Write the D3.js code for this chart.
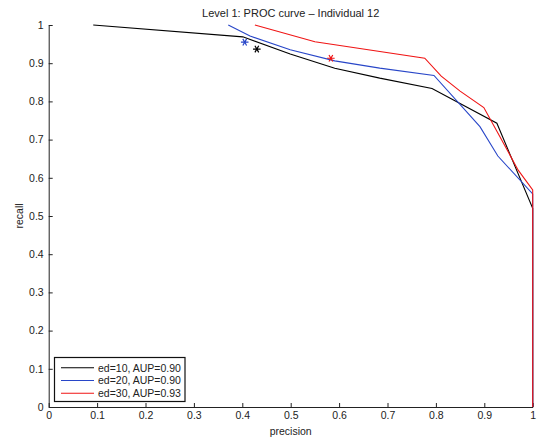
<!DOCTYPE html>
<html>
<head>
<meta charset="utf-8">
<script src="https://cdn.jsdelivr.net/npm/d3@7"></script>
<style>
  html, body { margin: 0; padding: 0; background: #fff; }
  svg { display: block; font-family: "Liberation Sans", Arial, Helvetica, sans-serif; }
</style>
</head>
<body>
<svg id="chart" width="538" height="438"></svg>
<script>
// ---- data ----
const titleText = "Level 1: PROC curve \u2013 Individual 12";
const xLabel = "precision";
const yLabel = "recall";
const tickValues = [0, 0.1, 0.2, 0.3, 0.4, 0.5, 0.6, 0.7, 0.8, 0.9, 1];
const seriesNames = ["ed=10, AUP=0.90", "ed=20, AUP=0.90", "ed=30, AUP=0.93"];
const seriesColors = ["#000000", "#2846c8", "#f01515"];

const ed10Precision = [0.092, 0.401, 0.499, 0.591, 0.684, 0.792, 0.926, 1.0, 1.0];
const ed10Recall    = [1.000, 0.969, 0.924, 0.887, 0.861, 0.834, 0.743, 0.520, 0.0];

const ed20Precision = [0.371, 0.416, 0.499, 0.591, 0.684, 0.796, 0.891, 0.928, 1.0, 1.0];
const ed20Recall    = [1.000, 0.971, 0.935, 0.906, 0.887, 0.868, 0.734, 0.657, 0.558, 0.0];

const ed30Precision = [0.426, 0.550, 0.777, 0.811, 0.850, 0.899, 0.936, 0.970, 1.0, 1.0];
const ed30Recall    = [1.000, 0.956, 0.913, 0.866, 0.827, 0.784, 0.699, 0.620, 0.568, 0.0];

// operating points (asterisks)
const starPrecision = [0.430, 0.405, 0.583];
const starRecall    = [0.937, 0.955, 0.913];

// ---- layout ----
const svg = d3.select("#chart");
const margin = { left: 48.7, right: 5.3, top: 25, bottom: 31 };
const W = 538, H = 438;
const x = d3.scaleLinear().domain([0, 1]).range([margin.left, W - margin.right]);
const y = d3.scaleLinear().domain([0, 1]).range([H - margin.bottom, margin.top]);
const fmt = d3.format("~g");

// axes
const xAxis = d3.axisBottom(x).tickValues(tickValues).tickFormat(fmt).tickSize(-4).tickSizeOuter(0).tickPadding(5);
const yAxis = d3.axisLeft(y).tickValues(tickValues).tickFormat(fmt).tickSize(-4).tickSizeOuter(0).tickPadding(5);

const gx = svg.append("g").attr("transform", `translate(0,${y(0)})`).call(xAxis);
const gy = svg.append("g").attr("transform", `translate(${x(0)},0)`).call(yAxis);
[gx, gy].forEach(g => {
  g.selectAll("text").attr("font-size", 10.5).attr("fill", "#222").attr("font-family", "Liberation Sans, Arial, sans-serif");
  g.selectAll("line").attr("stroke", "#222");
  g.select(".domain").attr("stroke", "#222");
});

// title & labels
svg.append("text").attr("x", (x(0) + x(1)) / 2).attr("y", 17).attr("text-anchor", "middle")
  .attr("font-size", 11).attr("fill", "#222").text(titleText);
svg.append("text").attr("x", (x(0) + x(1)) / 2).attr("y", 435).attr("text-anchor", "middle")
  .attr("font-size", 10.5).attr("fill", "#222").text(xLabel);
svg.append("text").attr("transform", `translate(23,${y(0.5)}) rotate(-90)`).attr("text-anchor", "middle")
  .attr("font-size", 10.5).attr("fill", "#222").text(yLabel);

// curves
const series = [
  { px: ed10Precision, ry: ed10Recall },
  { px: ed20Precision, ry: ed20Recall },
  { px: ed30Precision, ry: ed30Recall }
];
const line = d3.line().x(d => x(d[0])).y(d => y(d[1]));
series.forEach((s, i) => {
  const pts = s.px.map((p, j) => [p, s.ry[j]]);
  svg.append("path").attr("d", line(pts)).attr("fill", "none")
    .attr("stroke", seriesColors[i]).attr("stroke-width", 1.1).attr("stroke-linejoin", "miter");
});

// asterisk markers
const star = d3.symbol().type(d3.symbolAsterisk).size(40);
starPrecision.forEach((p, i) => {
  svg.append("path").attr("d", star()).attr("transform", `translate(${x(p)},${y(starRecall[i])}) rotate(90)`)
    .attr("fill", "none").attr("stroke", seriesColors[i]).attr("stroke-width", 1.2);
});

// legend
const lg = svg.append("g");
lg.append("rect").attr("x", 54.5).attr("y", 357.5).attr("width", 130.5).attr("height", 44)
  .attr("fill", "#fff").attr("stroke", "#111").attr("stroke-width", 1.2);
seriesNames.forEach((name, i) => {
  const yy = 367.7 + i * 12.8;
  lg.append("line").attr("x1", 61).attr("x2", 94).attr("y1", yy).attr("y2", yy)
    .attr("stroke", seriesColors[i]).attr("stroke-width", 1.1);
  lg.append("text").attr("x", 98).attr("y", yy + 3.8).attr("font-size", 10.5).attr("fill", "#222").text(name);
});
</script>
</body>
</html>
